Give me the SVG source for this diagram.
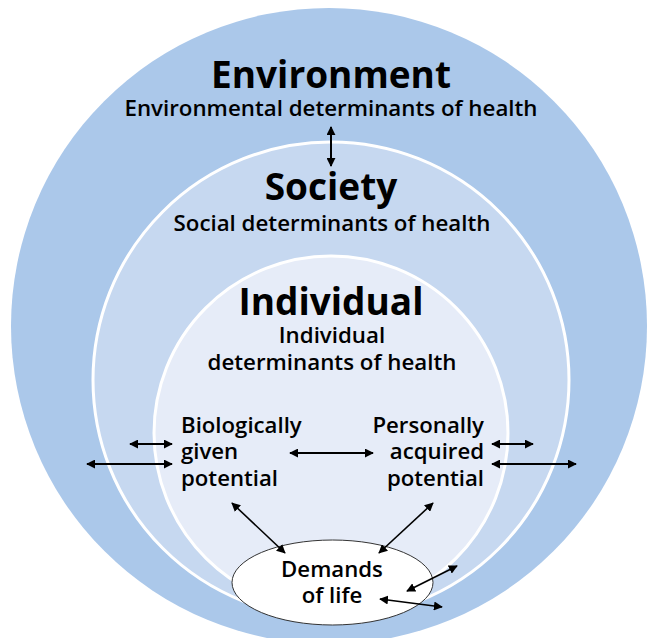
<svg xmlns="http://www.w3.org/2000/svg" width="649" height="638" viewBox="0 0 649 638">
<defs>
<marker id="ahs" viewBox="0 0 10 10" refX="9" refY="5" markerWidth="9" markerHeight="9" orient="auto-start-reverse" markerUnits="userSpaceOnUse">
<path d="M0,0 L10,5 L0,10 z" fill="#000"/>
</marker>
<style>
text{font-family:"Open Sans","Noto Sans",sans-serif;font-weight:700;fill:#000}
.big{font-size:37px}
.sub{font-size:22.3px;font-weight:600}
.lab{font-size:22.2px;font-weight:600}
.arr{stroke:#000;stroke-width:2;fill:none;marker-start:url(#ahs);marker-end:url(#ahs)}
.arr2{stroke:#000;stroke-width:1.6;fill:none;marker-start:url(#ahs);marker-end:url(#ahs)}
</style>
</defs>
<g id="environment">
<circle cx="329" cy="326" r="318" fill="#abc8ea"/>
<text class="big" x="331" y="88" text-anchor="middle">Environment</text>
<text class="sub" x="331" y="116" text-anchor="middle">Environmental determinants of health</text>
</g>
<g id="society">
<circle cx="331" cy="380" r="238" fill="#c6d8f0" stroke="#fff" stroke-width="3"/>
<text class="big" x="331" y="200" text-anchor="middle">Society</text>
<text class="sub" x="332" y="231" text-anchor="middle">Social determinants of health</text>
</g>
<g id="individual">
<circle cx="331" cy="433" r="177" fill="#e6ecf8" stroke="#fff" stroke-width="3"/>
<text class="big" x="331" y="315" text-anchor="middle">Individual</text>
<text class="sub" x="332" y="343" text-anchor="middle">Individual</text>
<text class="sub" x="332" y="370" text-anchor="middle">determinants of health</text>
</g>
<g id="biological">
<text class="lab" x="181" y="433">Biologically</text>
<text class="lab" x="181" y="459">given</text>
<text class="lab" x="181" y="486">potential</text>
</g>
<g id="personal">
<text class="lab" x="484" y="433" text-anchor="end">Personally</text>
<text class="lab" x="484" y="459" text-anchor="end">acquired</text>
<text class="lab" x="484" y="486" text-anchor="end">potential</text>
</g>
<g id="demands">
<ellipse cx="332.5" cy="582.5" rx="100.5" ry="42.5" fill="#fff" stroke="#333" stroke-width="1"/>
<text class="lab" x="332" y="577" text-anchor="middle">Demands</text>
<text class="lab" x="332" y="603" text-anchor="middle">of life</text>
</g>
<g id="connectors">
<line class="arr" x1="331" y1="127" x2="331" y2="166"/>
<line class="arr" x1="130" y1="444" x2="172" y2="444"/>
<line class="arr" x1="87" y1="464" x2="172" y2="464"/>
<line class="arr" x1="492" y1="444" x2="533" y2="444"/>
<line class="arr" x1="492" y1="464" x2="576" y2="464"/>
<line class="arr" x1="290" y1="453" x2="373" y2="453"/>
<line class="arr2" x1="232" y1="503" x2="285" y2="553"/>
<line class="arr2" x1="433" y1="503" x2="379" y2="553"/>
<line class="arr2" x1="407" y1="591" x2="457" y2="566"/>
<line class="arr2" x1="380" y1="599" x2="442" y2="607"/>
</g>
</svg>
